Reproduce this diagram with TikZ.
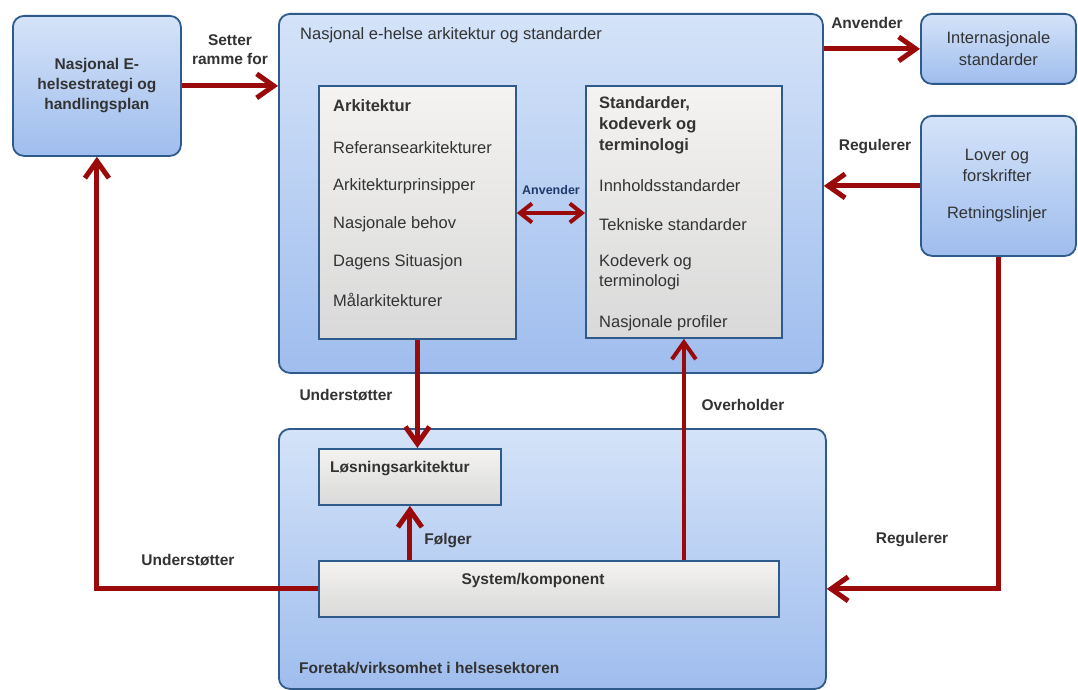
\documentclass[tikz,border=0pt]{standalone}
\usepackage{fontspec}
\setmainfont{Liberation Sans}
\usetikzlibrary{arrows.meta}
\definecolor{bord}{HTML}{2F5A8C}
\definecolor{btop}{HTML}{D4E3F8}
\definecolor{bbot}{HTML}{9FBDEE}
\definecolor{gtop}{HTML}{F4F3F1}
\definecolor{gbot}{HTML}{D9D9D9}
\definecolor{arrc}{HTML}{9A0A0A}
\definecolor{txt}{HTML}{333333}
\definecolor{ablue}{HTML}{1F3A6A}
\tikzset{
  bluebox/.style={draw=bord, line width=1.8pt, rounded corners=11pt, top color=btop, bottom color=bbot, anchor=north west, inner sep=0pt},
  graybox/.style={draw=bord, line width=1.8pt, top color=gtop, bottom color=gbot, anchor=north west, inner sep=0pt},
  arr/.style={draw=arrc, line width=5pt, -{Straight Barb[length=17pt,width=24pt]}},
  arrboth/.style={draw=arrc, line width=4pt, {Straight Barb[length=12pt,width=19pt]}-{Straight Barb[length=12pt,width=19pt]}},
  lbl/.style={text=txt, font=\fontsize{16.5}{21}\selectfont, inner sep=0pt},
  blbl/.style={text=txt, font=\fontsize{15.5}{19}\selectfont\bfseries, inner sep=0pt},
  item/.style={text=txt, font=\fontsize{16.5}{20}\selectfont, inner sep=0pt, anchor=west, align=left},
  bitem/.style={text=txt, font=\fontsize{16.5}{21}\selectfont\bfseries, inner sep=0pt, anchor=west, align=left},
}
\begin{document}
\begin{tikzpicture}[x=1pt,y=-1pt]
\useasboundingbox[fill=white] (0,0) rectangle (1078,690);
% outer boxes
\node[bluebox, minimum width=168pt, minimum height=140pt] (nas) at (12,15) {};
\node[blbl, align=center, font=\fontsize{15.5}{20}\selectfont\bfseries] at (nas.center) {Nasjonal E-\\helsestrategi og\\handlingsplan};
\node[bluebox, minimum width=544pt, minimum height=359pt] (top) at (278,13) {};
\node[item, anchor=west] (toplbl) at (300,35) {Nasjonal e-helse arkitektur og standarder};
\node[bluebox, minimum width=155pt, minimum height=70pt] (intl) at (920,13) {};
\node[lbl, align=center, font=\fontsize{16.5}{22}\selectfont] at (intl.center) {Internasjonale\\standarder};
\node[bluebox, minimum width=155pt, minimum height=140pt] (lov) at (920,115) {};
\node[lbl, align=center] at (997,165) {Lover og\\forskrifter};
\node[lbl] at (997,214) {Retningslinjer};
\node[bluebox, minimum width=547pt, minimum height=260pt] (bot) at (278,428) {};
\node[bitem, font=\fontsize{15.5}{20}\selectfont\bfseries] (botlbl) at (299,668) {Foretak/virksomhet i helsesektoren};
% inner boxes
\node[graybox, minimum width=197pt, minimum height=253pt] (ark) at (318,85) {};
\node[bitem] at (333,106) {Arkitektur};
\node[item] at (333,148) {Referansearkitekturer};
\node[item] at (333,186) {Arkitekturprinsipper};
\node[item] at (333,224) {Nasjonale behov};
\node[item] at (333,262) {Dagens Situasjon};
\node[item] at (333,300) {Målarkitekturer};
\node[graybox, minimum width=196pt, minimum height=252pt] (std) at (585,85) {};
\node[bitem, anchor=north west] at (599,96) {Standarder,\\kodeverk og\\terminologi};
\node[item] at (599,186) {Innholdsstandarder};
\node[item] at (599,225) {Tekniske standarder};
\node[item, anchor=north west] at (599,254) {Kodeverk og\\terminologi};
\node[item] at (599,323) {Nasjonale profiler};
\node[graybox, minimum width=182pt, minimum height=56pt] (los) at (318,448) {};
\node[bitem, font=\fontsize{15.5}{20}\selectfont\bfseries] at (330,469) {Løsningsarkitektur};
\node[graybox, minimum width=460pt, minimum height=56pt] (sys) at (318,560) {};
\node[bitem, anchor=center, font=\fontsize{15.5}{20}\selectfont\bfseries] at (533,580) {System/komponent};
% connectors
\draw[arr] (nas.east) -- (nas.east -| top.west);
\node[blbl, align=center] at (230,50) {Setter\\ramme for};
\draw[arr] (intl.west -| top.east) -- (intl.west);
\node[blbl] at (867,23) {Anvender};
\draw[arr] (lov.west) -- (lov.west -| top.east);
\node[blbl] at (875,147) {Regulerer};
\draw[arrboth] (ark.east |- 0,213) -- (std.west |- 0,213);
\node[text=ablue, font=\fontsize{12.5}{14}\selectfont\bfseries, inner sep=0pt] at (551,190) {Anvender};
\draw[arr] (ark.south) -- (ark.south |- los.north);
\node[blbl] at (346,395) {Understøtter};
\draw[arr] (sys.north -| los.south) -- (los.south);
\node[blbl] at (448,541) {Følger};
\draw[arr, line width=4pt] (std.south |- sys.north) -- (std.south);
\node[blbl] at (743,405) {Overholder};
\draw[arr] (lov.south) |- (sys.east -| bot.east);
\node[blbl] at (912,540) {Regulerer};
\draw[arr] (sys.west) -| (nas.south);
\node[blbl] at (188,560) {Understøtter};
\end{tikzpicture}
\end{document}
